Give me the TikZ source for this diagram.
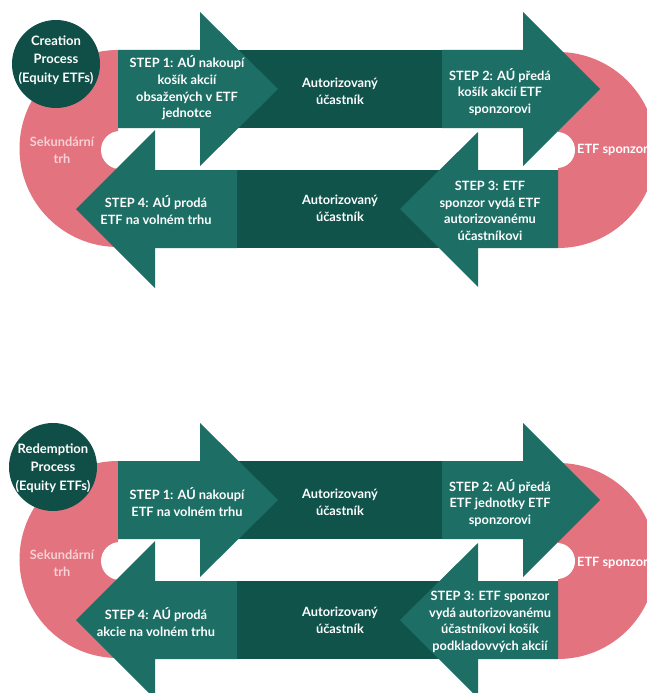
\documentclass[tikz,border=0pt]{standalone}
\usepackage{fontspec}
\setmainfont{Lato}
\definecolor{pinkc}{HTML}{E3737F}
\definecolor{tealL}{HTML}{1D6F66}
\definecolor{tealD}{HTML}{0F534B}
\definecolor{circC}{HTML}{0F4F47}
\definecolor{pinktxt}{HTML}{F8D0D5}
\tikzset{
  lbl/.style={text=white, align=center, font=\fontsize{12.8}{16.7}\selectfont\bfseries, inner sep=0pt},
  pinklbl/.style={text=pinktxt, align=center, font=\fontsize{12.8}{16.7}\selectfont\bfseries, inner sep=0pt},
  circlbl/.style={text=white, align=center, font=\fontsize{13}{18.5}\selectfont\bfseries, inner sep=0pt},
  pinkshape/.style={fill=pinkc, draw=none},
  lightarrow/.style={fill=tealL, draw=none},
  darkbar/.style={fill=tealD, draw=none},
  proc/.style={circle, fill=circC, minimum size=88pt, inner sep=0pt},
}
\begin{document}
\begin{tikzpicture}[x=1pt,y=-1pt]
\useasboundingbox (0,0) rectangle (647,693);
\clip (0,0) rectangle (647,693);
\fill[white] (0,0) rectangle (647,693);
\foreach \dy in {0,411}{
\begin{scope}[shift={(0,\dy)}]
  % pink half discs
  \fill[pinkshape] (118,50) arc[start angle=270,end angle=90,radius=98.5] -- cycle;
  \fill[pinkshape] (558,52) arc[start angle=270,end angle=450,radius=98] -- cycle;
  \fill[white] (120,150) circle[radius=19];
  \fill[white] (557,150) circle[radius=18];
  \fill[white] (120,129) rectangle (540,170);
  % dark bars
  \fill[darkbar] (200,50) rectangle (442,128);
  \fill[darkbar] (237,170) rectangle (478,248);
  % light arrows
  \fill[lightarrow] (118,50) -- (200,50) -- (200,12) -- (278,89) -- (200,166) -- (200,128) -- (118,128) -- cycle;
  \fill[lightarrow] (442,50) -- (523,50) -- (523,12) -- (600,89) -- (523,166) -- (523,128) -- (442,128) -- cycle;
  \fill[lightarrow] (558,170) -- (478,170) -- (478,132) -- (400,209) -- (478,287) -- (478,248) -- (558,248) -- cycle;
  \fill[lightarrow] (237,170) -- (155,170) -- (155,130) -- (76,209) -- (155,288) -- (155,248) -- (237,248) -- cycle;
\end{scope}
}
% top diagram
\node[proc] (c1) at (56,64) {};
\node[circlbl] (c1t) at (56,60) {Creation\\Process\\(Equity ETFs)};
\node[lbl] (s1a) at (187,88) {STEP 1: AÚ nakoupí\\košík akcií\\obsažených v ETF\\jednotce};
\node[lbl] (d1a) at (340,91) {Autorizovaný\\účastník};
\node[lbl] (s2a) at (500,92) {STEP 2: AÚ předá\\košík akcií ETF\\sponzorovi};
\node[lbl, anchor=west] (spa) at (577,150) {ETF sponzor};
\node[pinklbl] (ska) at (62,150) {Sekundární\\trh};
\node[lbl] (s3a) at (490,211) {STEP 3: ETF\\sponzor vydá ETF\\autorizovanému\\účastníkovi};
\node[lbl] (d2a) at (340,208) {Autorizovaný\\účastník};
\node[lbl] (s4a) at (156,210) {STEP 4: AÚ prodá\\ETF na volném trhu};
% bottom diagram
\node[proc] (c2) at (53,467) {};
\node[circlbl] (c2t) at (53,468) {Redemption\\Process\\(Equity ETFs)};
\node[lbl] (s1b) at (187,502) {STEP 1: AÚ nakoupí\\ETF na volném trhu};
\node[lbl] (d1b) at (340,502) {Autorizovaný\\účastník};
\node[lbl] (s2b) at (500,503) {STEP 2: AÚ předá\\ETF jednotky ETF\\sponzorovi};
\node[lbl, anchor=west] (spb) at (577,563) {ETF sponzor};
\node[pinklbl] (skb) at (62,563) {Sekundární\\trh};
\node[lbl] (s3b) at (490,622) {STEP 3: ETF sponzor\\vydá autorizovanému\\účastníkovi košík\\podkladovvých akcií};
\node[lbl] (d2b) at (340,620) {Autorizovaný\\účastník};
\node[lbl] (s4b) at (156,622) {STEP 4: AÚ prodá\\akcie na volném trhu};
\end{tikzpicture}
\end{document}
